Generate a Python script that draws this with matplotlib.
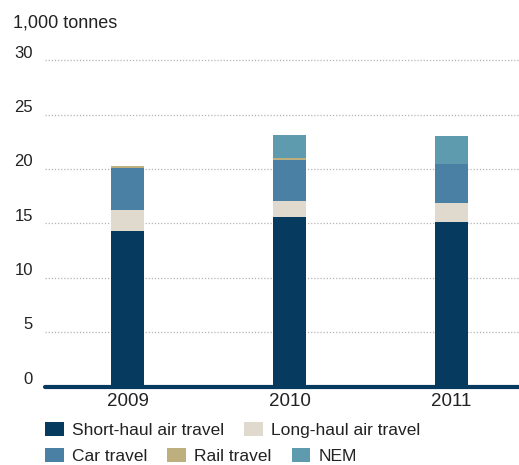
import matplotlib
matplotlib.use("Agg")
import matplotlib.pyplot as plt
import matplotlib.transforms as mtransforms
import numpy as np

plt.rcParams['font.family'] = ['Liberation Sans', 'DejaVu Sans']

years = ["2009", "2010", "2011"]
short_haul = [14.3, 15.6, 15.15]
long_haul = [1.95, 1.47, 1.75]
car = [3.85, 3.78, 3.58]
rail = [0.2, 0.18, 0.0]
nem = [0.0, 2.11, 2.58]

series = [
    ("Short-haul air travel", short_haul, "#063A5F"),
    ("Long-haul air travel", long_haul, "#E0D9CD"),
    ("Car travel", car, "#4A80A3"),
    ("Rail travel", rail, "#BDB07E"),
    ("NEM", nem, "#5E9BAE"),
]
yticks = [0, 5, 10, 15, 20, 25, 30]

W, H = 519, 465
fig = plt.figure(figsize=(W / 100, H / 100), dpi=100)
ax = fig.add_axes([45 / W, (H - 386.5) / H, 1 - 45 / W, (386.5 - 49.6) / H])

x = np.arange(len(years))
bottom = np.zeros(len(years))
handles = []
for name, vals, col in series:
    b = ax.bar(x, vals, width=0.204, bottom=bottom, color=col, label=name, zorder=2, linewidth=0)
    handles.append(b)
    bottom += np.array(vals)

ax.set_xlim(-0.509, 2.417)
ax.set_ylim(0, 31)
ax.set_yticks(yticks)
ax.set_yticklabels([str(v) for v in yticks])
ax.set_xticks(x)
ax.set_xticklabels(years)

for s in ax.spines.values():
    s.set_visible(False)

ax.yaxis.grid(True, linestyle=(0, (1, 1.5)), color="#B5B5B5", linewidth=0.9, zorder=0)
ax.set_axisbelow(True)
ax.axhline(0, color="#063A5F", linewidth=3.0, solid_capstyle="round", zorder=4, clip_on=False)

ax.tick_params(axis="y", length=0, pad=8.6, labelsize=12, labelcolor="#222222")
ax.tick_params(axis="x", length=0, pad=4.5, labelsize=13.5, labelcolor="#222222")
offset = mtransforms.ScaledTranslation(0, 2.0 / 72, fig.dpi_scale_trans)
for t in ax.get_yticklabels():
    t.set_verticalalignment("baseline")
    t.set_transform(t.get_transform() + offset)

fig.text(13 / W, 1 - 27 / H, "1,000 tonnes", fontsize=13, color="#222222", va="baseline", ha="left")

common = dict(frameon=False, fontsize=12.5, handlelength=1.09, handleheight=0.86,
              handletextpad=0.46, columnspacing=1.15, borderpad=0, borderaxespad=0,
              loc="center left")
leg1 = fig.legend(handles[0:2], [s[0] for s in series[0:2]], ncol=2,
                  bbox_to_anchor=(45 / W, 1 - 430 / H), **common)
leg2 = fig.legend(handles[2:5], [s[0] for s in series[2:5]], ncol=3,
                  bbox_to_anchor=(45 / W, 1 - 456 / H), **common)
for leg in (leg1, leg2):
    for t in leg.get_texts():
        t.set_color("#222222")

fig.savefig("out.png", dpi=100)
